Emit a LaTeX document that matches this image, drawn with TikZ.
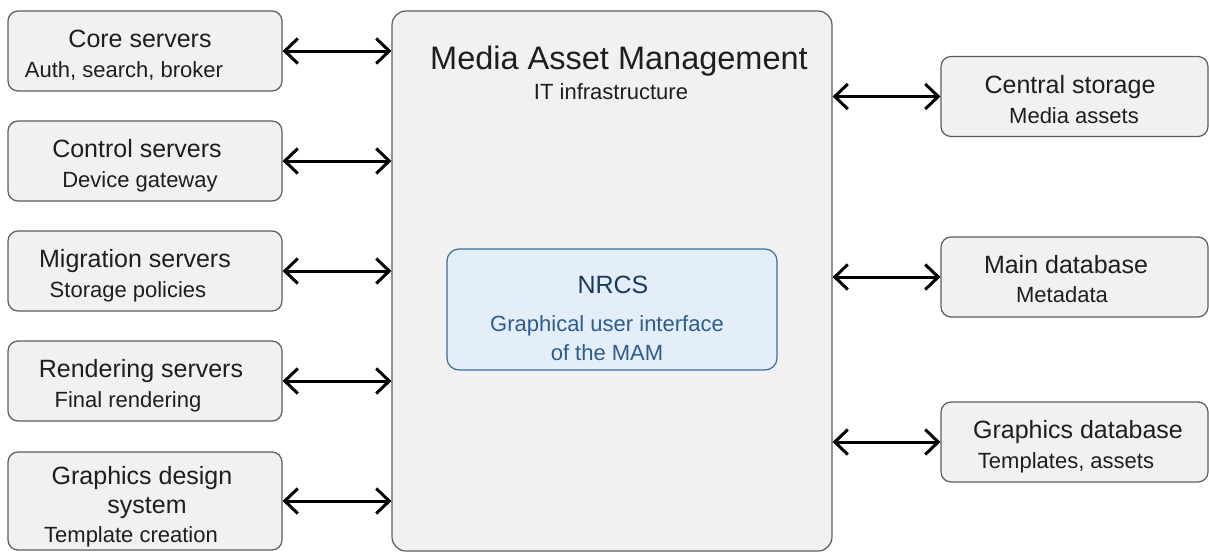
\documentclass[tikz,border=0pt]{standalone}
\usepackage{fontspec}
\setmainfont{Liberation Sans}
\usepackage{xcolor}
\usepackage{tikz}
\usetikzlibrary{arrows.meta,positioning}
\definecolor{boxfill}{HTML}{F1F1F1}
\definecolor{boxline}{HTML}{5C5C5C}
\definecolor{textgray}{HTML}{1E1E1E}
\definecolor{nrcsfill}{HTML}{E4EEF9}
\definecolor{nrcsline}{HTML}{3D6B99}
\definecolor{nrcstext}{HTML}{1B3A5C}
\definecolor{nrcssub}{HTML}{2C5C8C}
\tikzset{
	unit/.style={
			draw=boxline,
			fill=boxfill,
			line width=1.2pt,
			rounded corners=10pt,
			minimum width=274pt,
			minimum height=80pt,
			inner sep=0pt
		},
	store/.style={unit, minimum width=267pt},
	head/.style={anchor=base, text=textgray, inner sep=0pt, font=\fontsize{25}{30}\selectfont},
	desc/.style={anchor=base, text=textgray, inner sep=0pt, font=\fontsize{22}{26}\selectfont},
	link/.style={<->, line width=3pt, >={Straight Barb[length=13pt,width=25pt]}}
}

\begin{document}
\begin{tikzpicture}[x=1pt,y=-1pt]
	\useasboundingbox (0,0) rectangle (1209,552);

	\node[unit, rounded corners=14pt, minimum width=440pt, minimum height=540pt] at (612,281) (mam) {};
	\node[head, font=\fontsize{32.5}{38}\selectfont] at (619,69) (mamtitle) {Media Asset Management};
	\node[desc] at (611,99) (mamsub) {IT infrastructure};

	\node[unit, draw=nrcsline, fill=nrcsfill, rounded corners=12pt, minimum width=330pt, minimum height=121pt] at (612,309.5) (nrcs) {};
	\node[head, text=nrcstext] at (613,293) (nrcstitle) {NRCS};
	\node[desc, text=nrcssub] at (607,331) (nrcsgui) {Graphical user interface};
	\node[desc, text=nrcssub] at (607,360) (nrcsmam) {of the MAM};

	\node[unit] at (145,51) (core) {};
	\node[head] at (140,47) {Core servers};
	\node[desc] at (124,77) {Auth, search, broker};

	\node[unit] at (145,161) (control) {};
	\node[head] at (137,157) {Control servers};
	\node[desc] at (140,187) {Device gateway};

	\node[unit] at (145,271) (migration) {};
	\node[head] at (135,267) {Migration servers};
	\node[desc] at (128,297) {Storage policies};

	\node[unit] at (145,381) (rendering) {};
	\node[head] at (141,377) {Rendering servers};
	\node[desc] at (128,407) {Final rendering};

	\node[unit, minimum height=98pt] at (145,501) (design) {};
	\node[head] at (142,484) {Graphics design};
	\node[head] at (147,513) {system};
	\node[desc] at (131,542) {Template creation};

	\node[store] at (1074.5,96.5) (central) {};
	\node[head] at (1070,93) {Central storage};
	\node[desc] at (1074,123) {Media assets};

	\node[store] at (1074.5,277) (maindb) {};
	\node[head] at (1066,273) {Main database};
	\node[desc] at (1062,302) {Metadata};

	\node[store] at (1074.5,442) (graphicsdb) {};
	\node[head] at (1078,438) {Graphics database};
	\node[desc] at (1066,468) {Templates, assets};

	\draw[link] (core.east) -- (core.east -| mam.west);
	\draw[link] (control.east) -- (control.east -| mam.west);
	\draw[link] (migration.east) -- (migration.east -| mam.west);
	\draw[link] (rendering.east) -- (rendering.east -| mam.west);
	\draw[link] (design.east) -- (design.east -| mam.west);

	\draw[link] (mam.east |- central.west) -- (central.west);
	\draw[link] (mam.east |- maindb.west) -- (maindb.west);
	\draw[link] (mam.east |- graphicsdb.west) -- (graphicsdb.west);
\end{tikzpicture}
\end{document}
